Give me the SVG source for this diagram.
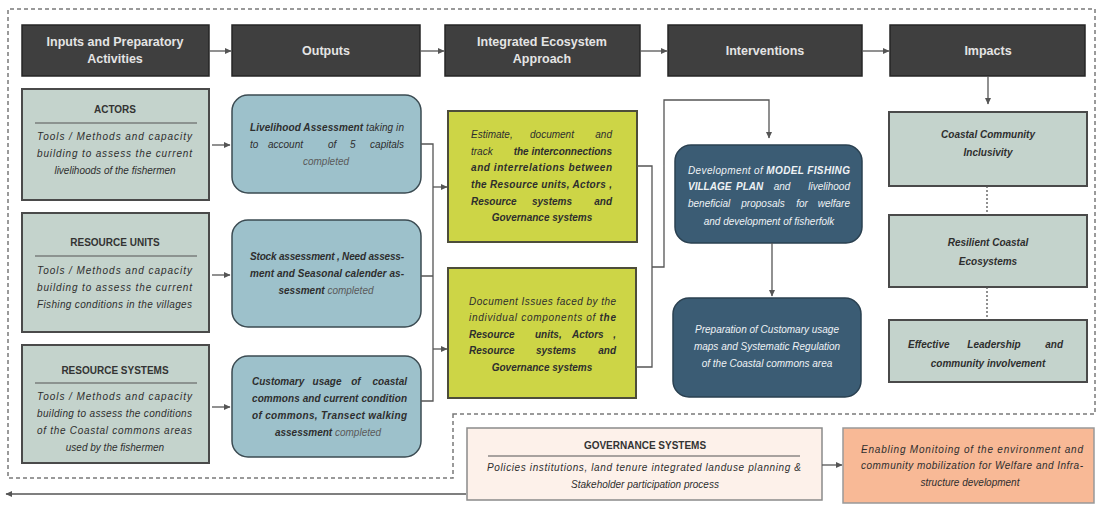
<svg xmlns="http://www.w3.org/2000/svg" width="1102" height="510" viewBox="0 0 1102 510">
<defs>
<marker id="ah" markerWidth="7" markerHeight="7" refX="6" refY="3.5" orient="auto" markerUnits="userSpaceOnUse">
<path d="M0,0.5 L6.5,3.5 L0,6.5 z" fill="#555"/>
</marker>
<style>
.hdr{fill:#3f3f3f;stroke:#262626;stroke-width:1.5}
.ht{fill:#e4e4e4;font-family:"Liberation Sans",Arial,sans-serif;font-size:12.5px;font-weight:bold;text-anchor:middle}
.grn{fill:#c4d3cc;stroke:#4a4a4a;stroke-width:2}
.out{fill:#9dc1cb;stroke:#3b4b52;stroke-width:1.5}
.yel{fill:#cdd546;stroke:#4d4d3a;stroke-width:2}
.blu{fill:#3b5c74;stroke:#2a4050;stroke-width:1.5}
.gov{fill:#fdf1ea;stroke:#8a8a8a;stroke-width:1.5}
.org{fill:#f8b996;stroke:#999;stroke-width:1.5}
.t{font-family:"Liberation Sans",Arial,sans-serif;font-size:10px;font-style:italic;fill:#2e2e2e}
.tc{text-anchor:middle}
.b{font-weight:bold}
.ttl{font-family:"Liberation Sans",Arial,sans-serif;font-size:10px;font-weight:bold;fill:#333;text-anchor:middle}
.lt{fill:#5a5a5a;font-weight:normal}
.w{fill:#eef2f5}
.sep{stroke:#555;stroke-width:1.2}
.con{fill:none;stroke:#555;stroke-width:1.3}
.dash{fill:none;stroke:#7a7a7a;stroke-width:1.5;stroke-dasharray:4 3}
.dot{fill:none;stroke:#555;stroke-width:1.3;stroke-dasharray:2 2}
</style>
</defs>
<rect width="1102" height="510" fill="#fff"/>
<path class="dash" d="M453,414 L1095,414 L1095,9 L8,9 L8,478 L453,478 Z"/>

<g id="h1"><rect class="hdr" x="22" y="25" width="187" height="51"/><text class="ht" x="115" y="46">Inputs and Preparatory</text><text class="ht" x="115" y="63">Activities</text></g>
<g id="h2"><rect class="hdr" x="232" y="25" width="188" height="51"/><text class="ht" x="326" y="55">Outputs</text></g>
<g id="h3"><rect class="hdr" x="445" y="25" width="195" height="51"/><text class="ht" x="542" y="46">Integrated Ecosystem</text><text class="ht" x="542" y="63">Approach</text></g>
<g id="h4"><rect class="hdr" x="668" y="25" width="194" height="51"/><text class="ht" x="765" y="55">Interventions</text></g>
<g id="h5"><rect class="hdr" x="890" y="25" width="195" height="51"/><text class="ht" x="988" y="55">Impacts</text></g>

<g id="actors"><rect class="grn" x="22" y="89" width="187" height="111"/>
<text class="ttl" x="115" y="113">ACTORS</text><line class="sep" x1="35" y1="123" x2="197" y2="123"/>
<text class="t" x="37" y="140" textLength="155" lengthAdjust="spacing">Tools / Methods and capacity</text>
<text class="t" x="37" y="157" textLength="155" lengthAdjust="spacing">building to assess the current</text>
<text class="t tc" x="115" y="174">livelihoods of the fishermen</text></g>

<g id="units"><rect class="grn" x="22" y="213" width="187" height="119"/>
<text class="ttl" x="115" y="246">RESOURCE UNITS</text><line class="sep" x1="35" y1="256" x2="197" y2="256"/>
<text class="t" x="37" y="274" textLength="155" lengthAdjust="spacing">Tools / Methods and capacity</text>
<text class="t" x="37" y="291" textLength="155" lengthAdjust="spacing">building to assess the current</text>
<text class="t" x="37" y="308" textLength="155" lengthAdjust="spacing">Fishing conditions in the villages</text></g>

<g id="systems"><rect class="grn" x="22" y="345" width="187" height="118"/>
<text class="ttl" x="115" y="374">RESOURCE SYSTEMS</text><line class="sep" x1="35" y1="383" x2="197" y2="383"/>
<text class="t" x="37" y="400" textLength="155" lengthAdjust="spacing">Tools / Methods and capacity</text>
<text class="t" x="37" y="417" textLength="155" lengthAdjust="spacing">building to assess the conditions</text>
<text class="t" x="37" y="434" textLength="155" lengthAdjust="spacing">of the Coastal commons areas</text>
<text class="t tc" x="115" y="451">used by the fishermen</text></g>

<g id="livelihood"><rect class="out" x="232" y="95" width="189" height="98" rx="16"/>
<text class="t" x="250" y="131" textLength="154" lengthAdjust="spacing"><tspan class="b">Livelihood Assessment</tspan> taking in</text>
<text class="t" y="148"><tspan x="250">to</tspan><tspan x="268">account</tspan><tspan x="328">of</tspan><tspan x="350">5</tspan><tspan x="404" text-anchor="end">capitals</tspan></text>
<text class="t tc lt" x="326" y="165">completed</text></g>

<g id="stock"><rect class="out" x="232" y="220" width="189" height="107" rx="16"/>
<text class="t b" x="250" y="260" textLength="154" lengthAdjust="spacing">Stock assessment , Need assess-</text>
<text class="t b" x="250" y="277" textLength="154" lengthAdjust="spacing">ment and Seasonal calender as-</text>
<text class="t tc" x="326" y="294"><tspan class="b">sessment</tspan><tspan class="lt">  completed</tspan></text></g>

<g id="customary"><rect class="out" x="232" y="356" width="189" height="101" rx="16"/>
<text class="t b" y="385"><tspan x="252">Customary</tspan><tspan x="327" text-anchor="middle">usage</tspan><tspan x="356" text-anchor="middle">of</tspan><tspan x="407" text-anchor="end">coastal</tspan></text>
<text class="t b" x="252" y="402" textLength="155" lengthAdjust="spacing">commons and current condition</text>
<text class="t b" x="252" y="419" textLength="155" lengthAdjust="spacing">of commons, Transect walking</text>
<text class="t tc" x="328" y="436"><tspan class="b">assessment</tspan><tspan class="lt"> completed</tspan></text></g>

<g id="estimate"><rect class="yel" x="448" y="111" width="189" height="131"/>
<text class="t" y="138"><tspan x="471">Estimate,</tspan><tspan x="552" text-anchor="middle">document</tspan><tspan x="612" text-anchor="end">and</tspan></text>
<text class="t" y="155"><tspan x="471">track</tspan><tspan x="612" text-anchor="end" class="b">the  interconnections</tspan></text>
<text class="t b" x="471" y="171" textLength="141" lengthAdjust="spacing">and interrelations between</text>
<text class="t b" x="471" y="188" textLength="141" lengthAdjust="spacing">the Resource units, Actors ,</text>
<text class="t b" y="205"><tspan x="471">Resource</tspan><tspan x="552" text-anchor="middle">systems</tspan><tspan x="612" text-anchor="end">and</tspan></text>
<text class="t b tc" x="542" y="221">Governance systems</text></g>

<g id="document"><rect class="yel" x="448" y="268" width="188" height="130"/>
<text class="t" x="469" y="305" textLength="147" lengthAdjust="spacing">Document Issues faced by the</text>
<text class="t" x="469" y="321" textLength="147" lengthAdjust="spacing">individual components of <tspan class="b">the</tspan></text>
<text class="t b" y="338"><tspan x="469">Resource</tspan><tspan x="535">units,</tspan><tspan x="572">Actors</tspan><tspan x="616" text-anchor="end">,</tspan></text>
<text class="t b" y="354"><tspan x="469">Resource</tspan><tspan x="556" text-anchor="middle">systems</tspan><tspan x="616" text-anchor="end">and</tspan></text>
<text class="t b tc" x="542" y="371">Governance systems</text></g>

<g id="model"><rect class="blu" x="675" y="145" width="187" height="98" rx="16"/>
<text class="t w" x="688" y="174" textLength="162" lengthAdjust="spacing">Development of <tspan class="b">MODEL FISHING</tspan></text>
<text class="t w" y="190"><tspan x="688" class="b">VILLAGE</tspan><tspan x="736" class="b">PLAN</tspan><tspan x="782" text-anchor="middle">and</tspan><tspan x="850" text-anchor="end">livelihood</tspan></text>
<text class="t w" y="207"><tspan x="688">beneficial</tspan><tspan x="763" text-anchor="middle">proposals</tspan><tspan x="802" text-anchor="middle">for</tspan><tspan x="850" text-anchor="end">welfare</tspan></text>
<text class="t w tc" x="769" y="225">and development of fisherfolk</text></g>

<g id="prep"><rect class="blu" x="673" y="298" width="188" height="99" rx="16"/>
<text class="t w tc" x="767" y="333">Preparation of Customary usage</text>
<text class="t w tc" x="767" y="350">maps and Systematic Regulation</text>
<text class="t w tc" x="767" y="367">of the Coastal commons area</text></g>

<g id="inclusivity"><rect class="grn" x="889" y="112" width="198" height="74"/>
<text class="t b tc" x="988" y="138">Coastal Community</text>
<text class="t b tc" x="988" y="156">Inclusivity</text></g>

<g id="resilient"><rect class="grn" x="889" y="215" width="198" height="72"/>
<text class="t b tc" x="988" y="246">Resilient Coastal</text>
<text class="t b tc" x="988" y="265">Ecosystems</text></g>

<g id="leadership"><rect class="grn" x="889" y="320" width="198" height="62"/>
<text class="t b" y="348"><tspan x="908">Effective</tspan><tspan x="994" text-anchor="middle">Leadership</tspan><tspan x="1063" text-anchor="end">and</tspan></text>
<text class="t b tc" x="988" y="367">community involvement</text></g>

<g id="governance"><rect class="gov" x="467" y="428" width="355" height="72"/>
<text class="ttl" x="645" y="449">GOVERNANCE SYSTEMS</text><line class="sep" x1="488" y1="456" x2="800" y2="456"/>
<text class="t" x="487" y="471" textLength="314" lengthAdjust="spacing">Policies institutions, land tenure integrated landuse planning &amp;</text>
<text class="t tc" x="645" y="488">Stakeholder participation process</text></g>

<g id="enabling"><rect class="org" x="843" y="428" width="251" height="75"/>
<text class="t" x="861" y="453" textLength="222" lengthAdjust="spacing">Enabling Monitoing of the environment and</text>
<text class="t" x="861" y="469" textLength="222" lengthAdjust="spacing">community mobilization for Welfare and Infra-</text>
<text class="t tc" x="970" y="486">structure development</text></g>

<g id="connectors">
<line class="con" x1="209" y1="51" x2="231" y2="51" marker-end="url(#ah)"/>
<line class="con" x1="420" y1="51" x2="444" y2="51" marker-end="url(#ah)"/>
<line class="con" x1="640" y1="51" x2="667" y2="51" marker-end="url(#ah)"/>
<line class="con" x1="862" y1="51" x2="889" y2="51" marker-end="url(#ah)"/>
<line class="con" x1="988" y1="76" x2="988" y2="104" marker-end="url(#ah)"/>
<line class="con" x1="212" y1="145" x2="230" y2="145" marker-end="url(#ah)"/>
<line class="con" x1="212" y1="275" x2="230" y2="275" marker-end="url(#ah)"/>
<line class="con" x1="212" y1="407" x2="230" y2="407" marker-end="url(#ah)"/>
<path class="con" d="M421,144 H433 V401 H421 M421,276 H433"/>
<line class="con" x1="433" y1="187" x2="447" y2="187" marker-end="url(#ah)"/>
<line class="con" x1="433" y1="349" x2="447" y2="349" marker-end="url(#ah)"/>
<path class="con" d="M637,166 H652 V367 H636 M652,267 H664 V100 H769 V138" marker-end="url(#ah)"/>
<line class="con" x1="772" y1="243" x2="772" y2="296" marker-end="url(#ah)"/>
<path class="dot" d="M987,186 V215 M987,287 V320"/>
<line class="con" x1="822" y1="465" x2="842" y2="465" marker-end="url(#ah)"/>
<line class="con" x1="466" y1="494" x2="6" y2="494" marker-end="url(#ah)"/>
</g>
</svg>
